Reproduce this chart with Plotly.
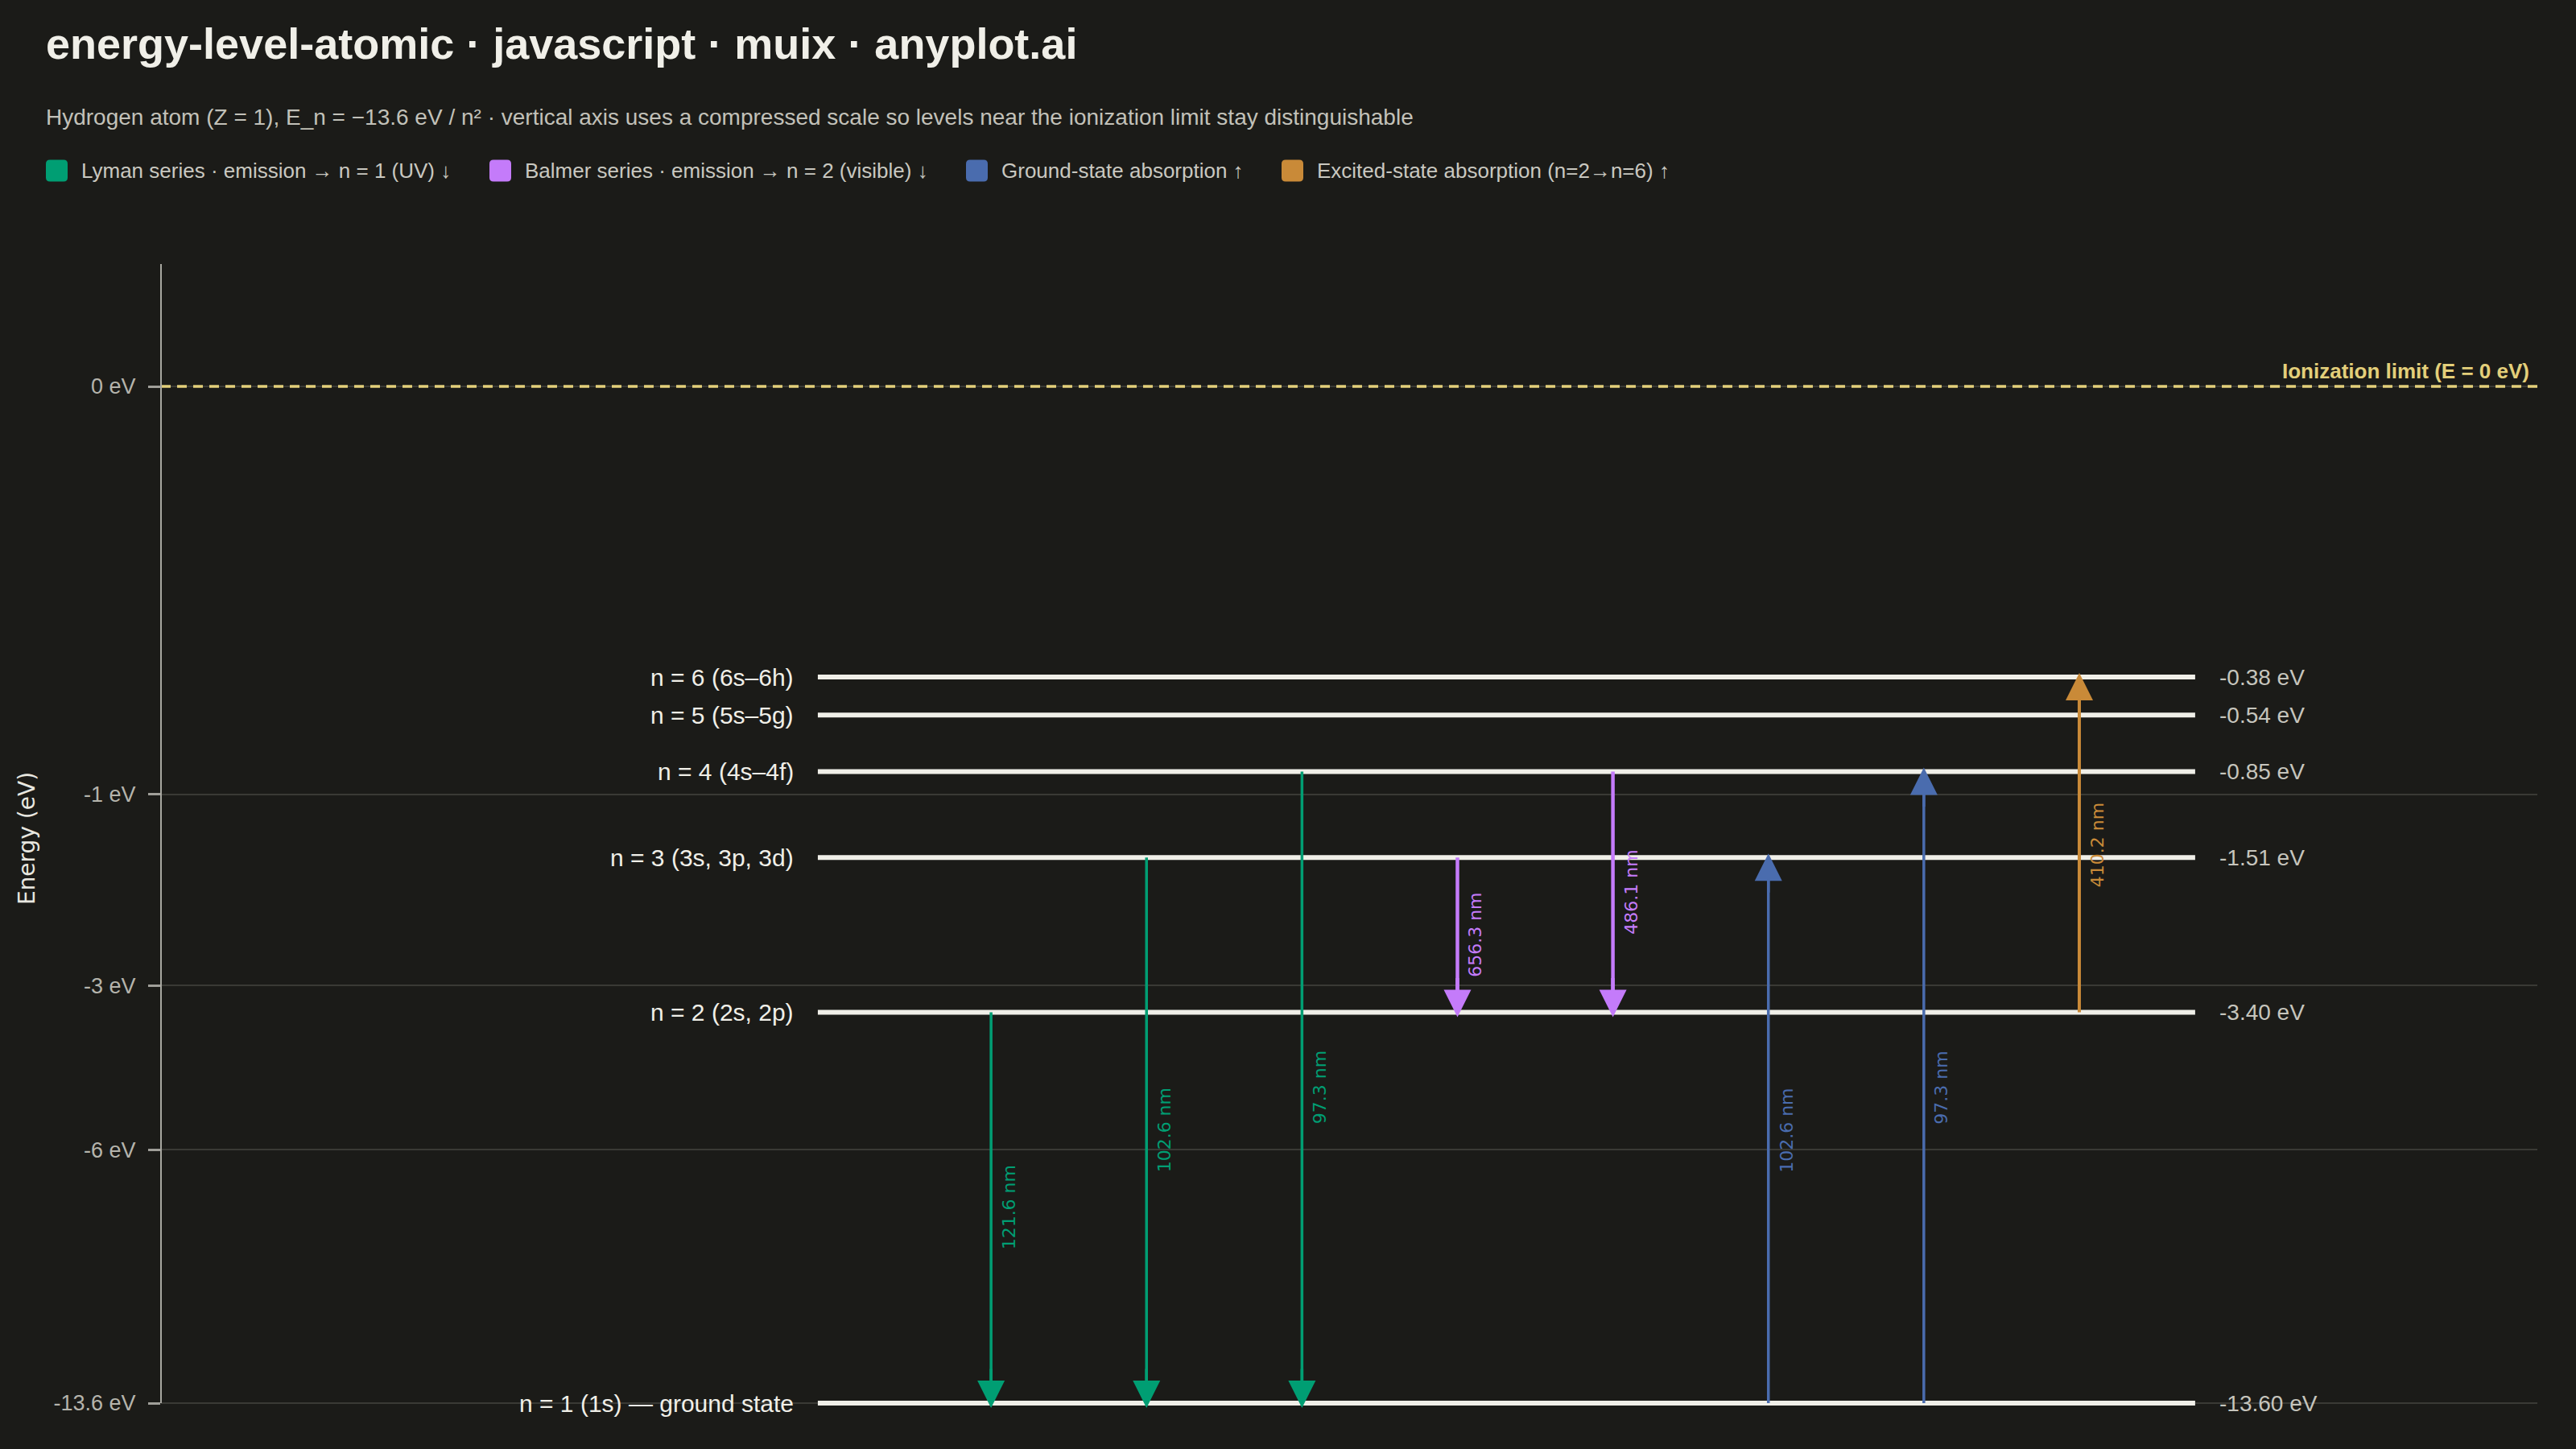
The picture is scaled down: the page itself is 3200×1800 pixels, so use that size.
import plotly.graph_objects as go

# ---------------- data ----------------
level_n = [1, 2, 3, 4, 5, 6]
level_energy = [-13.60, -3.40, -1.51, -0.85, -0.54, -0.38]
level_names = [
    "n = 1 (1s) — ground state",
    "n = 2 (2s, 2p)",
    "n = 3 (3s, 3p, 3d)",
    "n = 4 (4s–4f)",
    "n = 5 (5s–5g)",
    "n = 6 (6s–6h)",
]
level_value_labels = ["-13.60 eV", "-3.40 eV", "-1.51 eV", "-0.85 eV", "-0.54 eV", "-0.38 eV"]

series_names = [
    "Lyman series · emission → n = 1 (UV) ↓",
    "Balmer series · emission → n = 2 (visible) ↓",
    "Ground-state absorption ↑",
    "Excited-state absorption (n=2→n=6) ↑",
]
series_colors = ["#009E73", "#C47BFA", "#4A6CAE", "#C98A38"]

trans_from = [2, 3, 4, 3, 4, 1, 1, 2]
trans_to = [1, 1, 1, 2, 2, 3, 4, 6]
trans_nm = [121.6, 102.6, 97.3, 656.3, 486.1, 102.6, 97.3, 410.2]
trans_series = [0, 0, 0, 1, 1, 2, 2, 3]

ytick_energy = [0, -1, -3, -6, -13.6]
ytick_text = ["0 eV", "-1 eV", "-3 eV", "-6 eV", "-13.6 eV"]

ionization_energy = 0
ionization_label = "<b>Ionization limit (E = 0 eV)</b>"

title_text = "<b>energy-level-atomic · javascript · muix · anyplot.ai</b>"
subtitle_text = ("Hydrogen atom (Z = 1), E_n = −13.6 eV / n² · vertical axis uses a compressed "
                 "scale so levels near the ionization limit stay distinguishable")

# ---------------- style / layout ----------------
W, H = 3200, 1800
ML, MR, MT, MB = 200, 48, 328, 45
PW, PH = W - ML - MR, H - MT - MB
Y_ZERO_PX, Y_MIN_PX = 480, 1743          # pixel rows of 0 eV and of the lowest tick
BG = "#1B1B18"
LEVEL_COLOR = "#F0EFE8"
AXIS_COLOR = "#A8A7A0"
SANS = "Liberation Sans, Arial, sans-serif"
DEJAVU = "DejaVu Sans, sans-serif"
POWER = 0.35                     # compressed vertical scale: y = -|E|^0.35

LEVEL_X0, LEVEL_X1 = 0.2764, 0.8560
ARROW_X_START, ARROW_X_STEP = 0.3493, 0.06542
series_width = [3.5, 4.5, 3.5, 4.0]
HEAD_PX = 34


def comp(e):
    return -(abs(e) ** POWER)


def px2x(px):
    return (px - ML) / PW


def py2y(py):
    return (H - MB - py) / PH


y_min = comp(min(ytick_energy))
px_per_unit = (Y_MIN_PX - Y_ZERO_PX) / abs(y_min)
y_bottom = y_min - (H - MB - Y_MIN_PX) / px_per_unit
y_top = (Y_ZERO_PX - MT) / px_per_unit

e_of = dict(zip(level_n, level_energy))

fig = go.Figure()

# ionization limit
fig.add_trace(go.Scatter(
    x=[0, 1], y=[comp(ionization_energy)] * 2, mode="lines",
    line=dict(color="#E3CF7A", width=3.5, dash="12px,8px"),
    hoverinfo="skip", showlegend=False, cliponaxis=False))

# energy levels
for n, e, name in zip(level_n, level_energy, level_names):
    fig.add_trace(go.Scatter(
        x=[LEVEL_X0, LEVEL_X1], y=[comp(e), comp(e)], mode="lines",
        line=dict(color=LEVEL_COLOR, width=6), name=name,
        hoverinfo="name", showlegend=False, cliponaxis=False))

annotations = []
for n, e, name, vlab in zip(level_n, level_energy, level_names, level_value_labels):
    annotations.append(dict(
        x=LEVEL_X0, y=comp(e), xref="x", yref="y", text=name, showarrow=False,
        xanchor="right", yanchor="middle", xshift=-28,
        font=dict(family=SANS, size=30, color=LEVEL_COLOR)))
    annotations.append(dict(
        x=LEVEL_X1, y=comp(e), xref="x", yref="y", text=vlab, showarrow=False,
        xanchor="left", yanchor="middle", xshift=28,
        font=dict(family=SANS, size=28, color="#C6C5BD")))

# transitions
for i, (nf, nt, nm, s) in enumerate(zip(trans_from, trans_to, trans_nm, trans_series)):
    xi = ARROW_X_START + i * ARROW_X_STEP
    yf, yt = comp(e_of[nf]), comp(e_of[nt])
    col = series_colors[s]
    w = series_width[s]
    down = yt < yf
    fig.add_trace(go.Scatter(
        x=[xi, xi], y=[yf, yt], mode="lines", line=dict(color=col, width=w),
        name=f"{nf}→{nt} {nm} nm", hoverinfo="name", showlegend=False, cliponaxis=False))
    annotations.append(dict(
        x=xi, y=yt, xref="x", yref="y", ax=0, ay=-50 if down else 50,
        axref="pixel", ayref="pixel", text="", showarrow=True,
        arrowhead=2, arrowsize=HEAD_PX / 5.0 / w, arrowwidth=w, arrowcolor=col,
        yshift=-6 if down else 5))
    annotations.append(dict(
        x=xi, y=(yf + yt) / 2, xref="x", yref="y", text=f"{nm} nm", showarrow=False,
        textangle=-90, xanchor="center", yanchor="middle", xshift=22,
        font=dict(family=DEJAVU, size=22, color=col)))

# ionization label
annotations.append(dict(
    x=1, y=comp(ionization_energy), xref="paper", yref="y", text=ionization_label,
    showarrow=False, xanchor="right", yanchor="bottom", xshift=-8, yshift=2,
    font=dict(family=SANS, size=26, color="#E3CF7A")))

# subtitle
annotations.append(dict(
    x=px2x(55), y=py2y(145), xref="paper", yref="paper", text=subtitle_text,
    showarrow=False, xanchor="left", yanchor="middle",
    font=dict(family=SANS, size=28, color="#C2C1B9")))

# manual legend
LEGEND_PX = [57, 608, 1200, 1592]
LEG_Y = 212
SW = 27
shapes = []


def rrect(x0, y0, x1, y1, r):
    X = lambda v: px2x(v)
    Y = lambda v: py2y(v)
    return (f"M{X(x0 + r)},{Y(y0)} L{X(x1 - r)},{Y(y0)} Q{X(x1)},{Y(y0)} {X(x1)},{Y(y0 + r)} "
            f"L{X(x1)},{Y(y1 - r)} Q{X(x1)},{Y(y1)} {X(x1 - r)},{Y(y1)} "
            f"L{X(x0 + r)},{Y(y1)} Q{X(x0)},{Y(y1)} {X(x0)},{Y(y1 - r)} "
            f"L{X(x0)},{Y(y0 + r)} Q{X(x0)},{Y(y0)} {X(x0 + r)},{Y(y0)} Z")


for lx, name, col in zip(LEGEND_PX, series_names, series_colors):
    shapes.append(dict(type="path", xref="paper", yref="paper",
                       path=rrect(lx, LEG_Y - SW / 2, lx + SW, LEG_Y + SW / 2, 5),
                       fillcolor=col, line=dict(width=0), layer="above"))
    annotations.append(dict(
        x=px2x(lx + 42), y=py2y(LEG_Y), xref="paper", yref="paper", text=name,
        showarrow=False, xanchor="left", yanchor="middle",
        font=dict(family=SANS, size=26, color="#C9C8C0")))

# vertical axis line: from the lowest tick up to the top of the plot area
shapes.append(dict(type="line", xref="paper", yref="paper",
                   x0=0, x1=0, y0=py2y(Y_MIN_PX), y1=1,
                   line=dict(color=AXIS_COLOR, width=2), layer="above"))

fig.update_layout(
    width=W, height=H,
    margin=dict(l=ML, r=MR, t=MT, b=MB, autoexpand=False),
    paper_bgcolor=BG, plot_bgcolor=BG,
    title=dict(text=title_text, xref="container", yref="container",
               x=57 / W, xanchor="left", y=1 - 54 / H, yanchor="middle",
               font=dict(family=SANS, size=54, color="#F0EFE8")),
    showlegend=False,
    annotations=annotations,
    shapes=shapes,
    xaxis=dict(range=[0, 1], visible=False, fixedrange=True),
    yaxis=dict(
        range=[y_bottom, y_top],
        tickvals=[comp(v) for v in ytick_energy], ticktext=ytick_text,
        tickfont=dict(family=SANS, size=27, color="#B5B4AC"),
        ticks="outside", ticklen=15, tickwidth=3, tickcolor="#A09F99",
        ticklabelstandoff=10,
        showline=False,
        showgrid=True, gridcolor="#3A3A35", gridwidth=2,
        zeroline=False, automargin=False, fixedrange=True,
        title=dict(text="Energy (eV)", standoff=14,
                   font=dict(family=DEJAVU, size=28, color="#E8E7E0")),
    ),
)

fig.write_html(
    "out.html",
    config={"displayModeBar": False},
    post_script=("document.body.style.margin='0';"
                 "document.body.style.background='" + BG + "';"),
)
